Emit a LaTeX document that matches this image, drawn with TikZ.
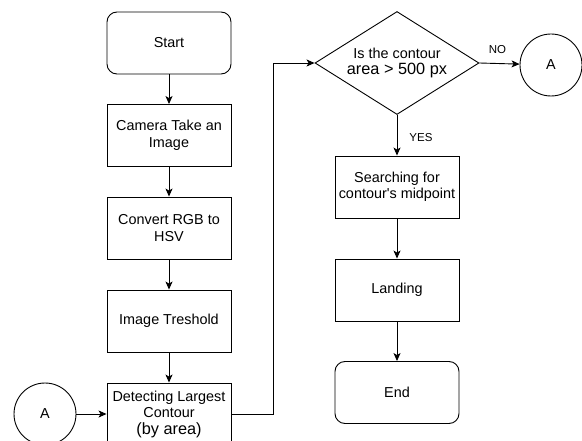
\documentclass[tikz,border=0pt]{standalone}
\usepackage{fontspec}
\setmainfont{Liberation Sans}[Ligatures=TeXOff]
\usetikzlibrary{shapes.geometric,arrows.meta}
\begin{document}
\begin{tikzpicture}[x=1pt,y=-1pt,
  every node/.style={font=\fontsize{14.4}{16.5}\selectfont, align=center, inner sep=0pt},
  box/.style={draw, line width=0.9pt, minimum width=124pt, minimum height=62pt},
  term/.style={box, rounded corners=10pt},
  decide/.style={draw, line width=0.9pt, diamond, minimum width=164pt, minimum height=103pt, aspect=1.6},
  conn/.style={draw, circle, line width=0.9pt, minimum size=62pt},
  flow/.style={line width=0.9pt, -{Stealth[length=8pt,width=7pt,inset=2pt]}},
  tag/.style={font=\fontsize{11.5}{13}\selectfont}]
\useasboundingbox (0,0) rectangle (582,441);
\node[term] (start) at (169,43) {Start};
\node[box] (cam) at (169,135.5) {Camera Take an\\Image};
\node[box] (hsv) at (169,228) {Convert RGB to\\HSV};
\node[box] (thr) at (169,321) {Image Treshold};
\node[box] (det) at (169,414) {Detecting Largest\\Contour\\{\fontsize{16.3}{18}\selectfont (by area)}};
\node[conn] (a1) at (45,414) {A};
\node[decide] (dec) at (397,63) {Is the contour\\{\fontsize{16.3}{18}\selectfont area > 500 px}};
\node[conn] (a2) at (551,65) {A};
\node[box] (mid) at (397,187) {Searching for\\contour's midpoint};
\node[box] (land) at (397,290) {Landing};
\node[term] (end) at (397,392.5) {End};
\coordinate (j1) at (273,414);
\coordinate (j2) at (273,63);
\draw[flow] (start) -- (cam);
\draw[flow] (cam) -- (hsv);
\draw[flow] (hsv) -- (thr);
\draw[flow] (thr) -- (det);
\draw[flow] (a1) -- (det);
\draw[flow] (det.east) -- (j1) -- (j2) -- (dec.west);
\draw[flow] (dec.east) -- (a2) node[tag, pos=0.45, above=9pt] {NO};
\draw[flow] (dec.south) -- (mid) node[tag, pos=0.55, right=12pt] {YES};
\draw[flow] (mid) -- (land);
\draw[flow] (land) -- (end);
\end{tikzpicture}
\end{document}
